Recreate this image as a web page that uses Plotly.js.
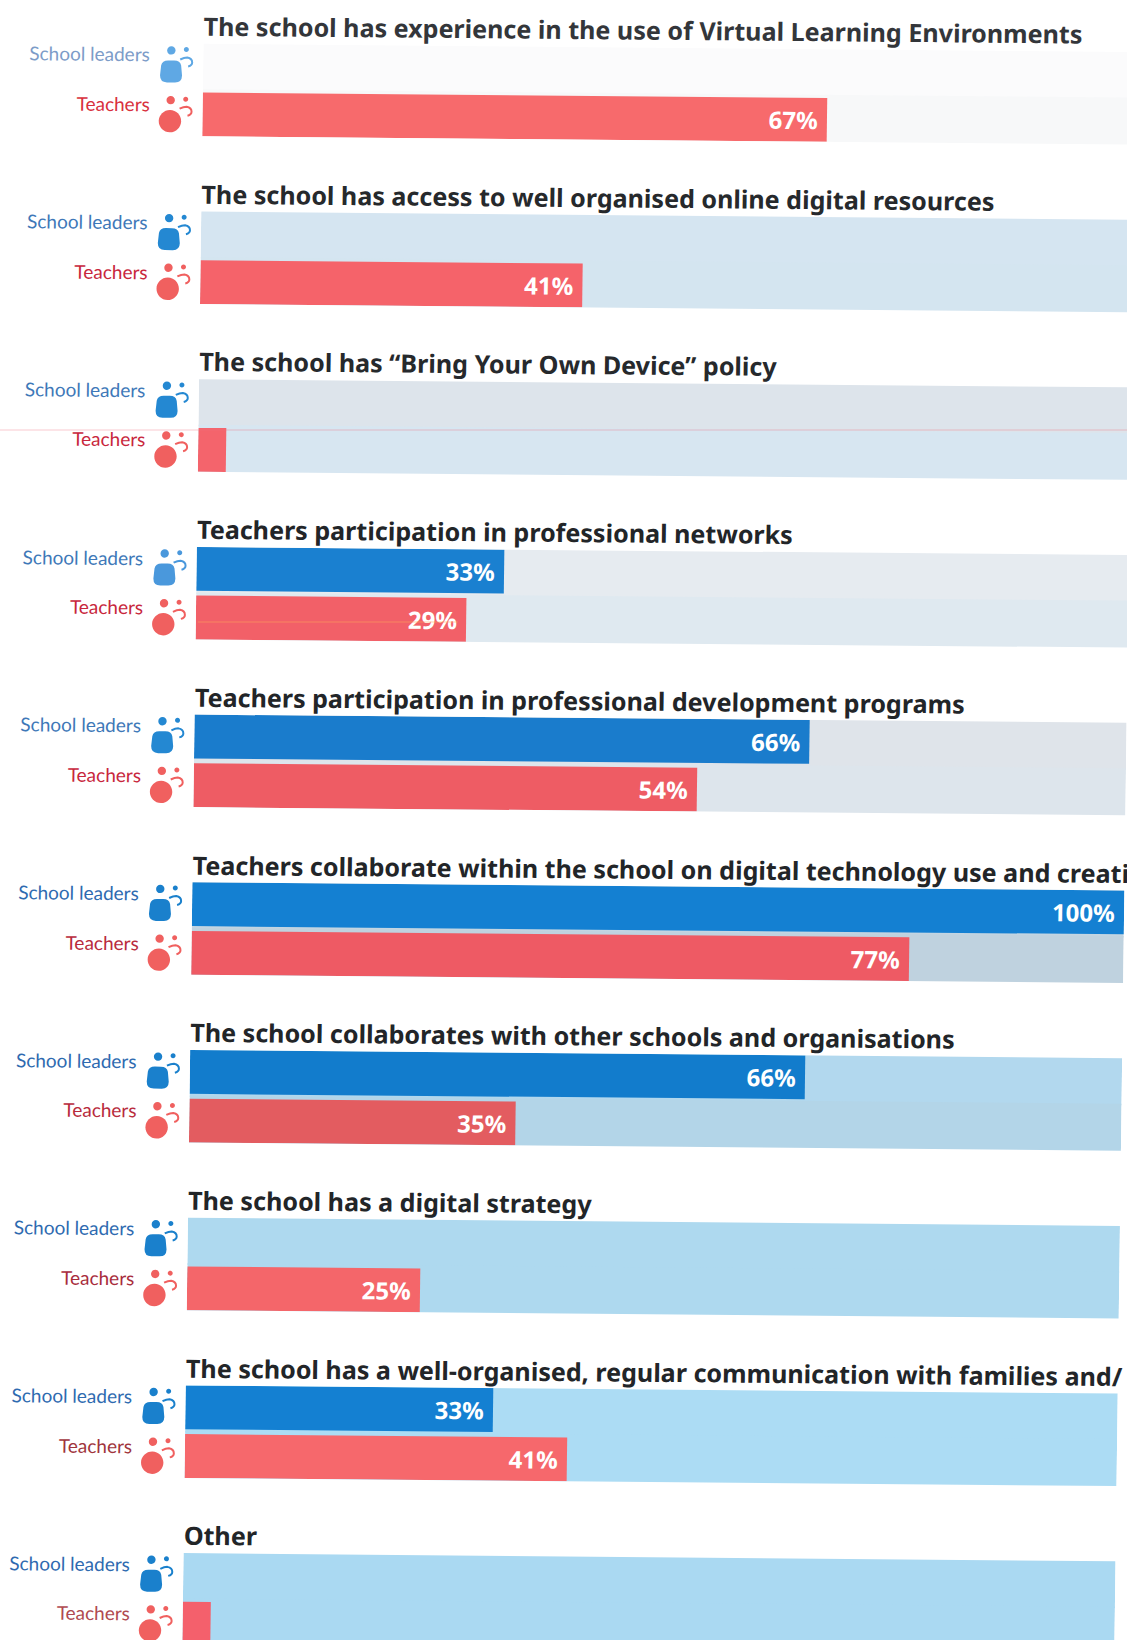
<!DOCTYPE html>
<html><head><meta charset="utf-8">
<script src="https://cdn.plot.ly/plotly-3.0.1.min.js"></script>
<style>html,body{margin:0;padding:0;background:#fff;width:1127px;height:1640px;overflow:hidden}
#c{width:1240px;height:1700px;transform-origin:0 0;transform:matrix(1,0.0088,-0.0132,1,0,0)}</style>
</head><body><div id="c"></div>
<script>
var panelTitles=[
"The school has experience in the use of Virtual Learning Environments",
"The school has access to well organised online digital resources",
"The school has “Bring Your Own Device” policy",
"Teachers participation in professional networks",
"Teachers participation in professional development programs",
"Teachers collaborate within the school on digital technology use and creati",
"The school collaborates with other schools and organisations",
"The school has a digital strategy",
"The school has a well-organised, regular communication with families and/",
"Other"];
var groups=["School leaders","Teachers"];
var schoolLeaders=[0,0,0,33,66,100,66,0,33,0];
var teachers=[67,41,3,29,54,77,35,25,41,3];
var trackUpper=["#fbfbfc","#d5e5f1","#dde4eb","#e6ebf0","#dfe4ea","#c3d5e2","#b2d8ee","#aed9ef","#acdcf4","#aad9f2"];
var trackLower=["#f7f8f9","#d4e5f0","#d7e6f1","#dfe9f0","#dde5ec","#bfd2df","#b3d5e8","#aed9ef","#acdcf4","#aad9f2"];
var blueColors=["#1a84d4","#1a84d4","#1a84d4","#1a80d0","#1a7ccc","#1480d2","#127ccc","#1a84d4","#1480d2","#1a84d4"];
var redColors=["#f76a6c","#f5636a","#f4646c","#f26068","#ee5c64","#ee5a64","#e35c60","#f4666a","#f6686c","#f4606c"];
var iconBlue=["#5fa8e4","#2488d2","#2488d2","#4a98dc","#2488d2","#1a80cc","#1a80cc","#1a80cc","#1a80cc","#1a80cc"];
var labelBlue=["#7c9cc8","#3e78b8","#3e78b8","#3e78b8","#3e78b8","#2e6ab0","#2e6ab0","#2e6ab0","#2e6ab0","#2e6ab0"];
var labelRed=["#d8303c","#c8263c","#c8263c","#c8263c","#c8263c","#b82a3c","#b82a3c","#a82c3c","#a0343c","#b04a50"];
var titleColors=["#33363a","#26292c","#26292c","#222528","#222528","#222528","#222528","#222528","#222528","#222528"];
var iconRed="#f0605f";

var W=1240,H=1700,left=204,right=1136,firstTop=42,pitch=167.7,panelH=92.5,barW=0.9;
var titleFont="'Noto Sans',sans-serif";
var data=[],ann=[],shapes=[];
var layout={width:W,height:H,margin:{l:0,r:0,t:0,b:0,pad:0},paper_bgcolor:"#fff",plot_bgcolor:"rgba(0,0,0,0)",
 showlegend:false,barmode:"overlay",dragmode:false,
 xaxis:{domain:[left/W,right/W],range:[0,100],visible:false,fixedrange:true}};
function lbl(v){return v>=10?v+"%\u00a0":""}
function circle(cx,cy,r){var k=r*0.5523,y=-cy;
 return "M"+(cx-r)+","+y+" C"+(cx-r)+","+(y+k)+" "+(cx-k)+","+(y+r)+" "+cx+","+(y+r)+
 " C"+(cx+k)+","+(y+r)+" "+(cx+r)+","+(y+k)+" "+(cx+r)+","+y+
 " C"+(cx+r)+","+(y-k)+" "+(cx+k)+","+(y-r)+" "+cx+","+(y-r)+
 " C"+(cx-k)+","+(y-r)+" "+(cx-r)+","+(y-k)+" "+(cx-r)+","+y+" Z";}
function icon(col,catCenterPaper,isBlue){
 var base={type:"path",xref:"paper",yref:"paper",xsizemode:"pixel",ysizemode:"pixel",xanchor:left/W,yanchor:catCenterPaper,line:{width:0},fillcolor:col,layer:"above"};
 var body=isBlue
  ?"M-42,0 Q-41,5 -35,5 L-29,5 Q-23,5 -22,0 L-21,-10 Q-21,-17 -28,-17 L-36,-17 Q-43,-17 -43,-10 Z"
  :circle(-32.5,7,11.2);
 var dy=isBlue?2:2.5;
 shapes.push(Object.assign({},base,{path:body}));
 shapes.push(Object.assign({},base,{path:circle(-32,isBlue?-15:-14,4.2)}));
 shapes.push(Object.assign({},base,{path:circle(-17,isBlue?-16:-15,2.5)}));
 shapes.push(Object.assign({},base,{fillcolor:"rgba(0,0,0,0)",line:{color:col,width:2},
  path:"M-23,"+(8-dy)+" Q-19,"+(10-dy)+" -16,"+(10-dy)+" Q-11,"+(9-dy)+" -11,"+(5-dy)+" Q-11,"+(2-dy)+" -15,"+(1-dy)}));
}
panelTitles.forEach(function(t,i){
 var n=i===0?"":String(i+1),yn="y"+n,ykey="yaxis"+n;
 var top=firstTop+pitch*i;
 var d0=1-(top+panelH)/H,d1=1-top/H;
 layout[ykey]={domain:[d0,d1],type:"category",categoryorder:"array",categoryarray:["Teachers","School leaders"],
  range:[-barW/2,1+barW/2],visible:false,fixedrange:true,anchor:"x"};
 data.push({type:"bar",orientation:"h",xaxis:"x",yaxis:yn,y:groups,x:[100,100],width:[1.03,1.03],marker:{color:[trackUpper[i],trackLower[i]],line:{width:0}},hoverinfo:"skip",showlegend:false});
 data.push({type:"bar",orientation:"h",xaxis:"x",yaxis:yn,y:[groups[0]],x:[schoolLeaders[i]],width:barW,marker:{color:blueColors[i],line:{width:0}},
  text:[lbl(schoolLeaders[i])],textposition:"inside",insidetextanchor:"end",textangle:0,constraintext:"none",cliponaxis:false,
  insidetextfont:{family:titleFont,size:24,color:"#fff",weight:700},name:groups[0]});
 data.push({type:"bar",orientation:"h",xaxis:"x",yaxis:yn,y:[groups[1]],x:[teachers[i]],width:barW,marker:{color:redColors[i],line:{width:0}},
  text:[lbl(teachers[i])],textposition:"inside",insidetextanchor:"end",textangle:0,constraintext:"none",cliponaxis:false,
  insidetextfont:{family:titleFont,size:24,color:"#fff",weight:700},name:groups[1]});
 ann.push({xref:"x",yref:yn+" domain",x:0,y:1,xanchor:"left",yanchor:"bottom",xshift:-2,yshift:-1,text:"<b>"+t+"</b>",showarrow:false,
  font:{family:titleFont,size:25.1,color:titleColors[i]}});
 ann.push({xref:"x",yref:yn,x:0,y:groups[0],xanchor:"right",yanchor:"middle",xshift:-51,yshift:11,text:groups[0],showarrow:false,
  font:{family:"Lato,sans-serif",size:19,color:labelBlue[i]}});
 ann.push({xref:"x",yref:yn,x:0,y:groups[1],xanchor:"right",yanchor:"middle",xshift:-51,yshift:10,text:groups[1],showarrow:false,
  font:{family:"Lato,sans-serif",size:19,color:labelRed[i]}});
 var h=d1-d0,span=1+barW;
 icon(iconBlue[i],d0+h*(1+barW/2)/span,true);
 icon(iconRed,d0+h*(barW/2)/span,false);
});
function scanLine(yScreen,u0,u1,col,w){
 shapes.push({type:"line",xref:"paper",yref:"paper",x0:u0/W,x1:u1/W,
  y0:1-(yScreen-0.0088*u0)/H,y1:1-(yScreen-0.0088*u1)/H,line:{color:col,width:w},layer:"above"});
}
scanLine(430,0,1240,"rgba(238,110,125,0.38)",1);
scanLine(622,206,466,"rgba(255,170,90,0.35)",1.5);
layout.annotations=ann;layout.shapes=shapes;
Plotly.newPlot("c",data,layout,{staticPlot:true,displayModeBar:false});
</script></body></html>
